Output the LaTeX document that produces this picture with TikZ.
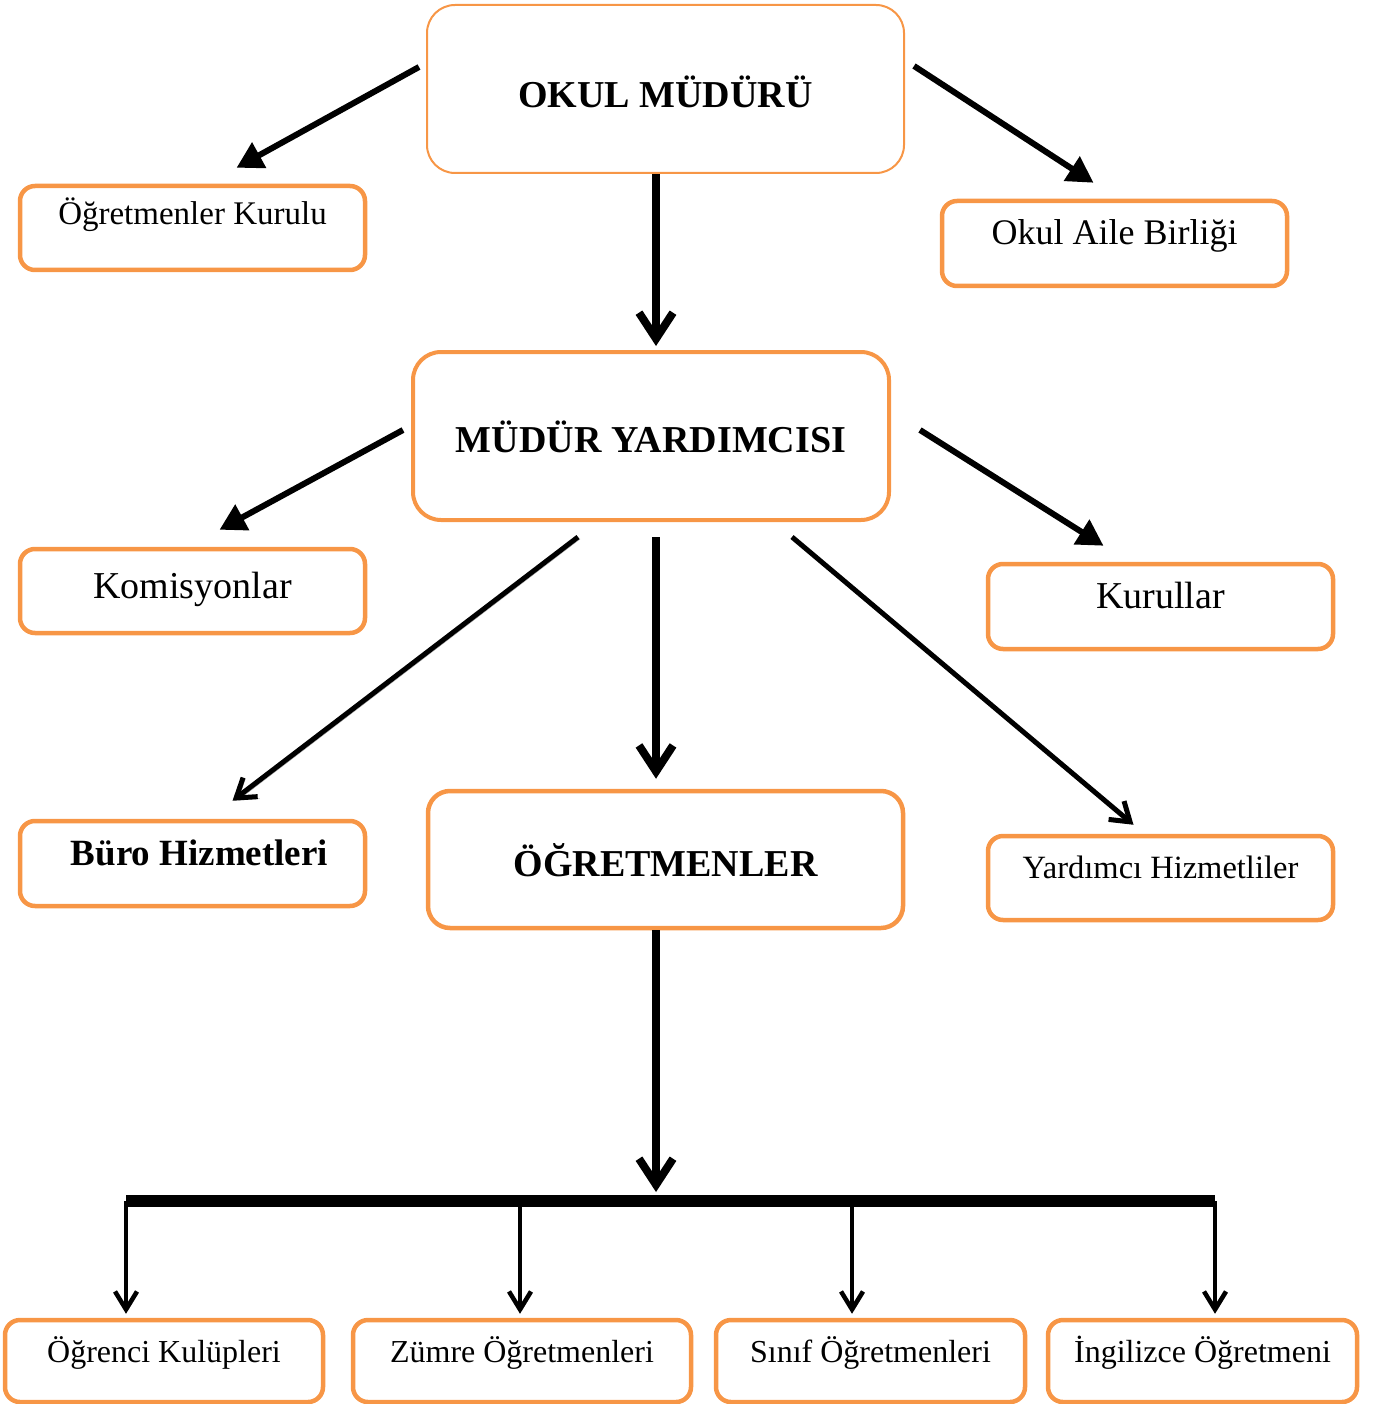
\documentclass[tikz,border=0pt]{standalone}
\usepackage{fontspec}
\setmainfont{Liberation Serif}
\usetikzlibrary{arrows.meta,positioning}
\definecolor{orgline}{RGB}{247,150,70}
\definecolor{orgshade}{RGB}{150,150,150}

\begin{document}
\begin{tikzpicture}[x=1pt,y=-1pt,
        mainbox/.style={draw=orgline, rounded corners=28pt, inner xsep=0pt, inner ysep=0pt, align=center,
          font=\fontsize{38}{40}\selectfont\bfseries},
        subbox/.style={draw=orgline, line width=4.5pt, rounded corners=15pt, inner xsep=0pt, inner ysep=0pt,
          minimum width=345pt, text height=44pt, text depth=41pt, align=center, font=\fontsize{36}{40}\selectfont},
        lowbox/.style={subbox, text height=42pt, text depth=40pt, font=\fontsize{32}{36}\selectfont},
        fatarrow/.style={-{Triangle[length=26pt,width=28pt]}, line width=6pt},
        stem/.style={-{Straight Barb[length=26pt,width=34pt]}, line width=8pt,
          preaction={draw=orgshade, transform canvas={shift={(2pt,-2pt)}}}},
        slim/.style={-{Straight Barb[length=18pt,width=24pt]}, line width=5pt,
          preaction={draw=orgshade, transform canvas={shift={(2pt,-2pt)}}}},
        drop/.style={-{Straight Barb[length=18pt,width=22pt]}, line width=4.5pt, shorten >=4pt,
          preaction={draw=orgshade, transform canvas={shift={(1.5pt,-1.5pt)}}}}
      ]
      \useasboundingbox (0,0) rectangle (1374,1404);

      % top level
      \node[mainbox, line width=2pt, minimum width=477pt, minimum height=168pt,
        text height=103pt, text depth=65pt] (okul) at (665.5,89) {OKUL MÜDÜRÜ};
      \node[subbox, text height=39pt, text depth=45pt, font=\fontsize{33}{36}\selectfont] (kurulu) at (192.5,228) {Öğretmenler Kurulu};
      \node[subbox] (aile) at (1114.5,243.5) {Okul Aile Birliği};

      % second level
      \node[mainbox, line width=4pt, minimum width=476pt, minimum height=168pt,
        text height=100pt, text depth=68pt] (yard) at (651,436) {MÜDÜR YARDIMCISI};
      \node[subbox, text height=49pt, text depth=35pt, font=\fontsize{38}{40}\selectfont] (komis) at (192.5,591) {Komisyonlar};
      \node[subbox, font=\fontsize{38}{40}\selectfont] (kurullar) at (1160.5,606.5) {Kurullar};

      % third level
      \node[subbox, font=\fontsize{37}{40}\selectfont\bfseries] (buro) at (192.5,863.5) {\hspace{14pt}Büro Hizmetleri};
      \node[mainbox, line width=4.5pt, rounded corners=22pt, minimum width=475pt, minimum height=137pt,
        text height=85pt, text depth=52pt] (ogretmen) at (665.5,859.5) {ÖĞRETMENLER};
      \node[subbox, text height=42pt, text depth=42pt, font=\fontsize{32.5}{36}\selectfont] (hizmet) at (1160.5,878) {Yardımcı Hizmetliler};

      % bottom row
      \node[lowbox, minimum width=318pt] (kulup) at (164,1361) {Öğrenci Kulüpleri};
      \node[lowbox, minimum width=338pt] (zumre) at (522,1361) {Zümre Öğretmenleri};
      \node[lowbox, minimum width=309pt] (sinif) at (870.5,1361) {Sınıf Öğretmenleri};
      \node[lowbox, minimum width=309pt] (ingiliz) at (1202.5,1361) {İngilizce Öğretmeni};

      \draw[fatarrow] ([xshift=-7pt,yshift=22pt]okul.west) -- ([xshift=44pt,yshift=16pt]kurulu.north);
      \draw[fatarrow] ([xshift=9pt,yshift=23pt]okul.east) -- ([xshift=-21pt,yshift=16pt]aile.north);
      \draw[stem] ([xshift=-9.5pt]okul.south) -- ([xshift=5pt,yshift=4pt]yard.north);

      \draw[fatarrow] ([xshift=-8pt,yshift=6pt]yard.west) -- ([xshift=27pt,yshift=17pt]komis.north);
      \draw[fatarrow] ([xshift=29pt,yshift=6pt]yard.east) -- ([xshift=-57pt,yshift=16pt]kurullar.north);
      \draw[slim] ([xshift=-73pt,yshift=-15pt]yard.south) -- ([xshift=40pt,yshift=18pt]buro.north);
      \draw[stem] ([xshift=5pt,yshift=-15pt]yard.south) -- ([xshift=-9.5pt,yshift=10pt]ogretmen.north);
      \draw[slim] ([xshift=141pt,yshift=-15pt]yard.south) -- ([xshift=-27pt,yshift=9pt]hizmet.north);

      % distribution bar
      \coordinate (barL) at (126,1201);
      \coordinate (barR) at (1215,1201);
      \coordinate (hub) at (656,1192);
      \draw[stem] ([xshift=-9.5pt]ogretmen.south) -- (hub);
      \draw[line width=12pt] (barL) -- (barR);
      \foreach \n/\x in {kulup/126,zumre/520,sinif/852,ingiliz/1215}
        \draw[drop] (\x,1201) -- (\x,1201 |- \n.north);
    \end{tikzpicture}
\end{document}
